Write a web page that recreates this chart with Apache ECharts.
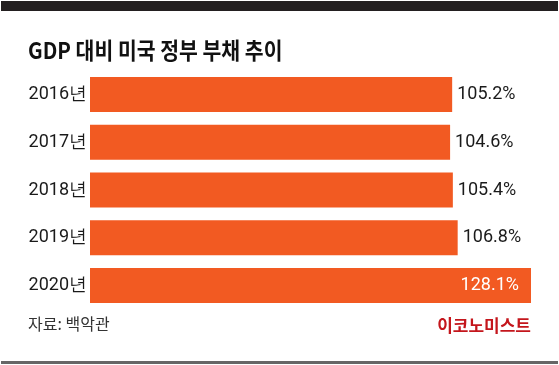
<!DOCTYPE html>
<html>
<head>
<meta charset="utf-8">
<script src="https://cdn.jsdelivr.net/npm/echarts@6/dist/echarts.min.js"></script>
<style>html,body{margin:0;padding:0;background:#fff}#c{width:559px;height:365px}</style>
</head>
<body>
<div id="c"></div>
<script>
var categories = ['2016년', '2017년', '2018년', '2019년', '2020년'];
var debtRatio = [105.2, 104.6, 105.4, 106.8, 128.1];
var titleText = 'GDP 대비 미국 정부 부채 추이';
var sourceText = '자료: 백악관';
var logoText = '이코노미스트';

var chart = echarts.init(document.getElementById('c'), null, {renderer: 'canvas'});
var barColor = '#f25a22';
var data = debtRatio.map(function (v, i) {
  var last = i === debtRatio.length - 1;
  return {
    value: v,
    label: last ? {position: 'insideRight', color: '#fff', distance: 12} : {position: 'right', color: '#1a1a1a', distance: 5}
  };
});
chart.setOption({
  animation: false,
  grid: {left: 90, right: 28, top: 70.6, height: 238.8, containLabel: false},
  xAxis: {type: 'value', min: 0, max: 128.1, show: false},
  yAxis: {
    type: 'category', data: categories, inverse: true,
    axisLine: {show: false}, axisTick: {show: false},
    axisLabel: {color: '#1a1a1a', fontSize: 18, fontFamily: 'Roboto', margin: 3}
  },
  series: [{
    type: 'bar', data: data, barWidth: 35,
    itemStyle: {color: barColor},
    label: {show: true, fontSize: 18, fontFamily: 'Roboto', formatter: function (p) { return p.value + '%'; }}
  }],
  graphic: [
    {type: 'rect', shape: {x: 1, y: 1, width: 557, height: 10}, style: {fill: '#231f20'}},
    {type: 'text', x: 28, y: 39, scaleX: 0.89, style: {text: titleText, font: 'bold 23px "Noto Sans CJK KR"', fill: '#111', textVerticalAlign: 'top'}},
    {type: 'text', x: 28, y: 316, style: {text: sourceText, font: '16px "Noto Sans CJK KR"', fill: '#333', textVerticalAlign: 'top'}},
    {type: 'text', x: 531, y: 317, style: {text: logoText, font: 'bold 17px "Noto Sans CJK KR"', fill: '#c4161c', textAlign: 'right', textVerticalAlign: 'top'}},
    {type: 'rect', shape: {x: 1, y: 361, width: 557, height: 3}, style: {fill: '#666'}}
  ]
});
</script>
</body>
</html>
